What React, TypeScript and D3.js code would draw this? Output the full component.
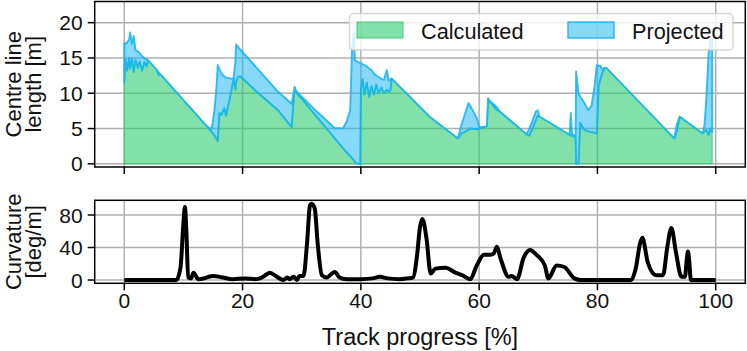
import React from "react";
import * as d3 from "d3";

// ---- Data ----
const progress = [0.0,0.2,0.5,0.8,1.0,1.3,1.6,1.9,2.3,2.6,3.0,3.4,3.8,4.0,5.5,5.8,6.2,14.1,14.8,15.3,15.6,15.8,16.1,16.4,16.9,17.2,17.9,18.3,18.5,18.8,18.9,19.2,19.6,22.4,26.0,28.3,28.8,29.0,29.2,32.7,35.6,37.0,37.6,38.2,38.5,38.8,39.0,39.3,39.9,40.0,40.3,40.6,41.0,41.4,41.8,42.2,42.6,43.0,43.5,43.9,44.4,44.7,45.0,45.2,51.6,56.4,57.0,58.2,58.5,59.6,60.0,61.3,61.5,61.8,62.5,63.0,63.5,68.0,68.5,69.6,69.9,70.2,75.3,75.5,75.7,76.3,76.4,76.8,77.1,77.8,78.4,79.0,79.5,79.9,80.2,80.5,80.8,81.2,81.5,93.0,93.4,93.9,97.8,98.1,98.4,98.8,99.1,99.4];
const calculated = [11.5,14.8,13.2,15.0,13.5,14.9,13.0,14.7,13.6,14.5,13.2,14.4,13.8,14.7,13.3,12.6,12.6,5.2,4.5,4.0,3.5,3.2,7.2,6.9,7.9,6.8,9.5,11.2,12.1,10.5,11.5,12.3,12.4,10.2,7.6,5.2,10.9,10.2,10.0,6.5,3.6,2.2,1.6,1.1,0.8,0.5,0.3,0,0,10.5,12.0,9.8,11.5,9.5,11.0,9.8,11.2,10.0,10.8,10.0,10.5,10.2,10.4,12.1,6.7,3.6,4.3,4.8,5.0,4.9,5.0,5.3,8.4,8.9,8.1,7.6,7.4,4.2,4.0,6.2,6.8,6.7,4.1,4.0,4.0,3.8,0,0,5.8,4.8,4.6,4.5,4.4,4.3,10.9,12.0,12.8,13.6,13.6,3.6,4.5,6.7,4.3,4.6,4.8,4.1,5.0,4.5];
const projected = [17.1,17.0,17.2,17.6,18.6,17.0,18.1,16.1,15.9,15.7,15.3,15.0,14.8,14.7,13.3,13.0,12.6,5.2,5.0,8.0,11.0,14.0,13.4,12.8,12.4,12.2,12.1,12.0,12.3,14.5,16.9,16.6,16.2,13.6,10.2,8.5,10.9,10.4,10.2,7.3,5.05,5.05,6.0,7.6,16.1,18.7,14.7,14.5,14.3,14.3,14.1,14.0,13.8,13.5,13.3,12.8,12.5,12.3,12.0,11.9,13.3,11.8,12.0,12.1,6.7,3.6,5.5,8.6,8.2,6.5,5.2,5.3,9.3,8.9,8.4,8.0,7.4,4.2,5.0,7.4,7.6,6.7,4.1,7.2,4.2,4.0,13.1,10.0,9.5,8.6,7.6,8.2,10.9,14.0,13.9,13.9,13.4,13.6,13.6,3.6,5.5,6.7,4.3,5.5,9.0,15.7,17.6,17.5];

const curvProgress = [0,8.8,9.5,10.0,10.25,10.5,10.8,11.3,11.7,12.5,13.5,15.0,16.7,18.3,20.5,22.2,23.5,24.6,25.8,26.9,27.5,28.0,28.6,29.2,29.6,30.3,30.9,31.4,31.65,32.2,32.7,33.4,34.2,35.6,36.4,37.5,40.0,42.0,43.2,44.5,46.5,47.9,48.8,49.5,50.0,50.4,51.1,51.8,52.6,54.3,56.0,57.1,58.5,59.6,60.8,61.9,62.5,63.0,63.6,65.0,65.5,66.4,67.5,68.6,69.7,71.1,71.7,73.1,74.4,76.1,77.2,85.7,86.5,87.2,87.6,88.5,89.9,91.1,91.8,92.5,93.3,94.2,94.8,95.1,95.3,95.5,95.8,100];
const curvature = [0,0,15,70,90,60,3,2,9,1,2,5,3,1,2,1,4,9,4,0,3,1,4,0,5,5,45,92,94,88,45,6,3,10,3,1,1,2,4,2,1,2,3,30,65,75,51,8,14,15,9,6,1,18,31,31,33,41,27,4,5,1,27,37,31,18,2,18,16,2,0,0,15,45,52,22,6,6,40,64,33,4,4,25,35,25,0,0];

const xTicks = [0, 20, 40, 60, 80, 100];
const topYTicks = [0, 5, 10, 15, 20];
const botYTicks = [0, 40, 80];
const legendLabels = ["Calculated", "Projected"];

const FONT = "'Liberation Sans', Arial, Helvetica, sans-serif";

export default function App() {
  const W = 747, H = 351;
  const L = 94.7, R = 745.3;
  const topT = 1.5, topB = 167;
  const botT = 200.3, botB = 283.3;

  const x = d3.scaleLinear().domain([-5, 105]).range([L, R]);
  const yTop = d3.scaleLinear().domain([-0.45, 23]).range([topB, topT]);
  const yBot = d3.scaleLinear().domain([-4.06, 98.1]).range([botB, botT]);

  const idx = progress.map((_, i) => i);
  const calcArea = d3.area<number>()
    .x(i => x(progress[i]))
    .y0(() => yTop(0))
    .y1(i => yTop(calculated[i]));
  const projArea = d3.area<number>()
    .x(i => x(progress[i]))
    .y0(i => yTop(calculated[i]))
    .y1(i => yTop(projected[i]));

  const cIdx = curvProgress.map((_, i) => i);
  const curvLine = d3.line<number>()
    .x(i => x(curvProgress[i]))
    .y(i => yBot(curvature[i]))
    .curve(d3.curveMonotoneX);

  const green = "#2ecc71";
  const blue = "#12b4f2";
  const gridC = "#b0b0b0";
  const fsTick = 21;
  const fsLabel = 23.5;
  const fsYLabel = 22;
  const fsLegend = 21.7;

  return (
    <svg width={W} height={H} style={{ position: "absolute", left: 0, top: 0 }} fontFamily={FONT}>
      <rect x={0} y={0} width={W} height={H} fill="white" />
      <defs>
        <clipPath id="clipTop"><rect x={L} y={topT} width={R - L} height={topB - topT} /></clipPath>
        <clipPath id="clipBot"><rect x={L} y={botT} width={R - L} height={botB - botT} /></clipPath>
      </defs>

      {/* grids */}
      <g stroke={gridC} strokeWidth={1.5}>
        {xTicks.map(t => <line key={"gt" + t} x1={x(t)} x2={x(t)} y1={topT} y2={topB} />)}
        {topYTicks.map(t => <line key={"gy" + t} x1={L} x2={R} y1={yTop(t)} y2={yTop(t)} />)}
        {xTicks.map(t => <line key={"gb" + t} x1={x(t)} x2={x(t)} y1={botT} y2={botB} />)}
        {botYTicks.map(t => <line key={"gby" + t} x1={L} x2={R} y1={yBot(t)} y2={yBot(t)} />)}
      </g>

      {/* top areas */}
      <g clipPath="url(#clipTop)">
        <path d={calcArea(idx) || ""} fill={green} fillOpacity={0.6} stroke={green} strokeOpacity={0.6} strokeWidth={1.5} strokeLinejoin="round" />
        <path d={projArea(idx) || ""} fill={blue} fillOpacity={0.5} stroke={blue} strokeOpacity={0.85} strokeWidth={1.9} strokeLinejoin="round" />
      </g>

      {/* bottom line */}
      <g clipPath="url(#clipBot)">
        <path d={curvLine(cIdx) || ""} fill="none" stroke="black" strokeWidth={4} strokeLinejoin="round" strokeLinecap="butt" />
      </g>

      {/* frames */}
      <rect x={L} y={topT} width={R - L} height={topB - topT} fill="none" stroke="black" strokeWidth={1.5} />
      <rect x={L} y={botT} width={R - L} height={botB - botT} fill="none" stroke="black" strokeWidth={1.5} />

      {/* ticks */}
      <g stroke="black" strokeWidth={1.5}>
        {xTicks.map(t => <line key={"tt" + t} x1={x(t)} x2={x(t)} y1={topB} y2={topB + 7} />)}
        {xTicks.map(t => <line key={"tb" + t} x1={x(t)} x2={x(t)} y1={botB} y2={botB + 7} />)}
        {topYTicks.map(t => <line key={"ty" + t} x1={L - 7} x2={L} y1={yTop(t)} y2={yTop(t)} />)}
        {botYTicks.map(t => <line key={"tby" + t} x1={L - 7} x2={L} y1={yBot(t)} y2={yBot(t)} />)}
      </g>

      {/* tick labels */}
      <g fontSize={fsTick} fill="#111">
        {topYTicks.map(t => (
          <text key={"lt" + t} x={L - 12} y={yTop(t)} textAnchor="end" dominantBaseline="central">{t}</text>
        ))}
        {botYTicks.map(t => (
          <text key={"lb" + t} x={L - 12} y={yBot(t)} textAnchor="end" dominantBaseline="central">{t}</text>
        ))}
        {xTicks.map(t => (
          <text key={"lx" + t} x={x(t)} y={308} textAnchor="middle">{t}</text>
        ))}
      </g>

      {/* axis labels */}
      <g fill="#111" textAnchor="middle">
        <text x={(L + R) / 2} y={345} fontSize={fsLabel}>Track progress [%]</text>
        <g fontSize={fsYLabel}>
          <text transform={`translate(20.5,${(topT + topB) / 2}) rotate(-90)`}>Centre line</text>
          <text transform={`translate(41,${(topT + topB) / 2}) rotate(-90)`}>length [m]</text>
          <text transform={`translate(20.5,${(botT + botB) / 2}) rotate(-90)`}>Curvature</text>
          <text transform={`translate(41,${(botT + botB) / 2}) rotate(-90)`}>[deg/m]</text>
        </g>
      </g>

      {/* legend */}
      <g>
        <rect x={349.5} y={13.5} width={383.5} height={36.5} rx={4} fill="white" fillOpacity={0.8} stroke="#cccccc" strokeOpacity={0.8} strokeWidth={1.5} />
        <rect x={357} y={22} width={46} height={16} fill={green} fillOpacity={0.6} stroke={green} strokeOpacity={0.6} strokeWidth={1.5} />
        <text x={421} y={38.5} fontSize={fsLegend} fill="#111">{legendLabels[0]}</text>
        <rect x={568} y={22} width={46} height={16} fill={blue} fillOpacity={0.5} stroke={blue} strokeOpacity={0.85} strokeWidth={1.5} />
        <text x={632} y={38.5} fontSize={fsLegend} fill="#111">{legendLabels[1]}</text>
      </g>
    </svg>
  );
}
